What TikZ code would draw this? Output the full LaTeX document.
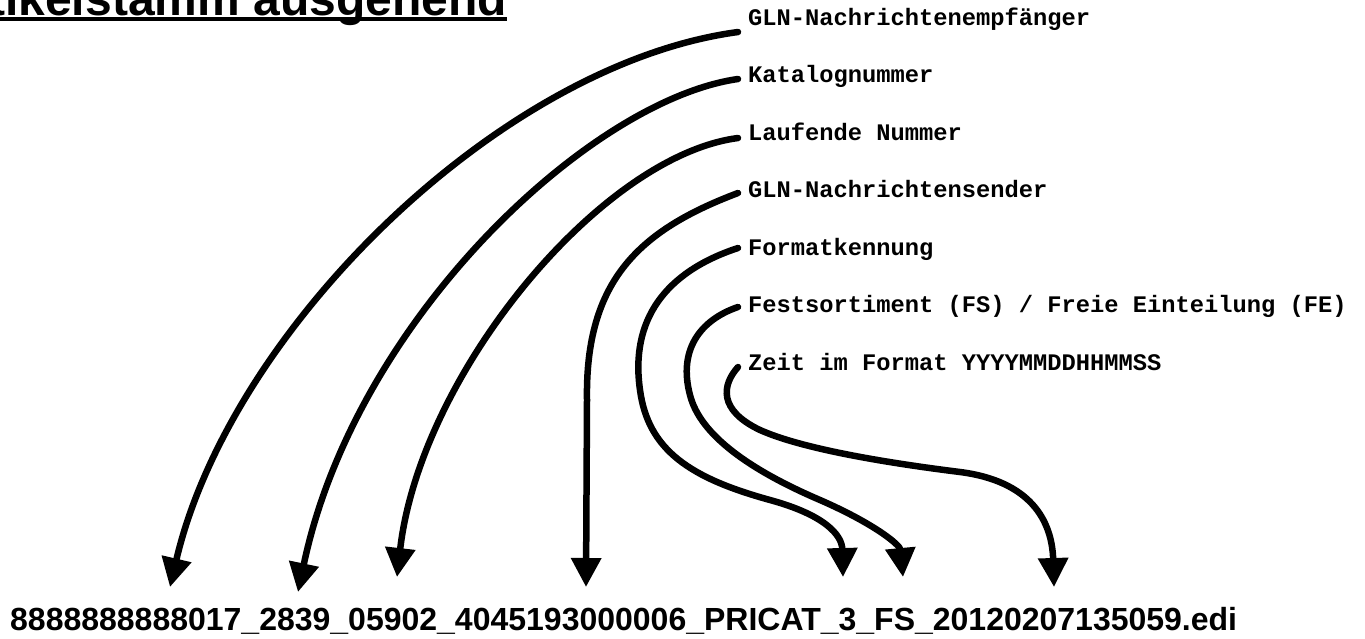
\documentclass[tikz,border=0pt]{standalone}
\usepackage{fontspec}
\setmainfont{Liberation Sans}
\newfontfamily\labelfont{Liberation Mono}
\usetikzlibrary{arrows.meta,calc}
\begin{document}
\begin{tikzpicture}[x=1pt,y=-1pt,
  lbl/.style={anchor=base west,inner sep=0pt,font=\labelfont\bfseries\fontsize{23.75}{28}\selectfont},
  arr/.style={line width=6.5pt,line cap=round,-{Triangle[length=29pt,width=29pt]}},
  ]
\useasboundingbox (0,0) rectangle (1365,638);
\clip (0,0) rectangle (1365,638);
\node[anchor=base east,inner sep=0pt,font=\bfseries\fontsize{48}{56}\selectfont] (title) at (507,15) {Artikelstamm ausgehend};
\draw[line width=4pt] ($(title.base west)+(0,4)$) -- ($(title.base east)+(0,4)$);

\node[lbl] (l1) at (748,25) {GLN-Nachrichtenempfänger};
\node[lbl] (l2) at (748,82.5) {Katalognummer};
\node[lbl] (l3) at (748,140) {Laufende Nummer};
\node[lbl] (l4) at (748,197.5) {GLN-Nachrichtensender};
\node[lbl] (l5) at (748,255) {Formatkennung};
\node[lbl] (l6) at (748,312.5) {Festsortiment (FS) / Freie Einteilung (FE)};
\node[lbl] (l7) at (748,370) {Zeit im Format YYYYMMDDHHMMSS};

\node[anchor=base west,inner sep=0pt,font=\bfseries\fontsize{32}{38}\selectfont] (fn) at (10,630) {8888888888017\_2839\_05902\_4045193000006\_PRICAT\_3\_FS\_20120207135059.edi};

\coordinate (s1) at ($(l1.base west)+(-10,7)$);
\coordinate (s2) at ($(l2.base west)+(-10,-3.5)$);
\coordinate (s3) at ($(l3.base west)+(-10,-2)$);
\coordinate (s4) at ($(l4.base west)+(-10,-4.5)$);
\coordinate (s5) at ($(l5.base west)+(-10,-7)$);
\coordinate (s6) at ($(l6.base west)+(-10,-5.5)$);
\coordinate (s7) at ($(l7.base west)+(-10,-3)$);

\coordinate (t1) at (170,587);
\coordinate (t2) at (298,592);
\coordinate (t3) at (397,577);
\coordinate (t4) at (586,587);
\coordinate (t5) at (843,577);
\coordinate (t6) at (903,577);
\coordinate (t7) at (1054,587);

\draw[arr] (s1) .. controls (500,64) and (230,330) .. (t1);
\draw[arr] (s2) .. controls (590,100) and (355,320) .. (t2);
\draw[arr] (s3) .. controls (600,156) and (420,375) .. (t3);
\draw[arr] (s4) .. controls (640,230) and (585,280) .. (587,400) -- (t4);
\draw[arr] (s5) .. controls (665,272) and (630,320) .. (640,390)
  .. controls (648,450) and (690,478) .. (770,500)
  .. controls (825,515) and (842,535) .. (t5);
\draw[arr] (s6) .. controls (700,320) and (678,350) .. (690,395)
  .. controls (700,435) and (750,470) .. (820,500)
  .. controls (875,524) and (900,545) .. (t6);
\draw[arr] (s7) .. controls (722,385) and (718,410) .. (760,430)
  .. controls (800,448) and (880,462) .. (960,472)
  .. controls (1030,481) and (1052,520) .. (t7);
\end{tikzpicture}
\end{document}
